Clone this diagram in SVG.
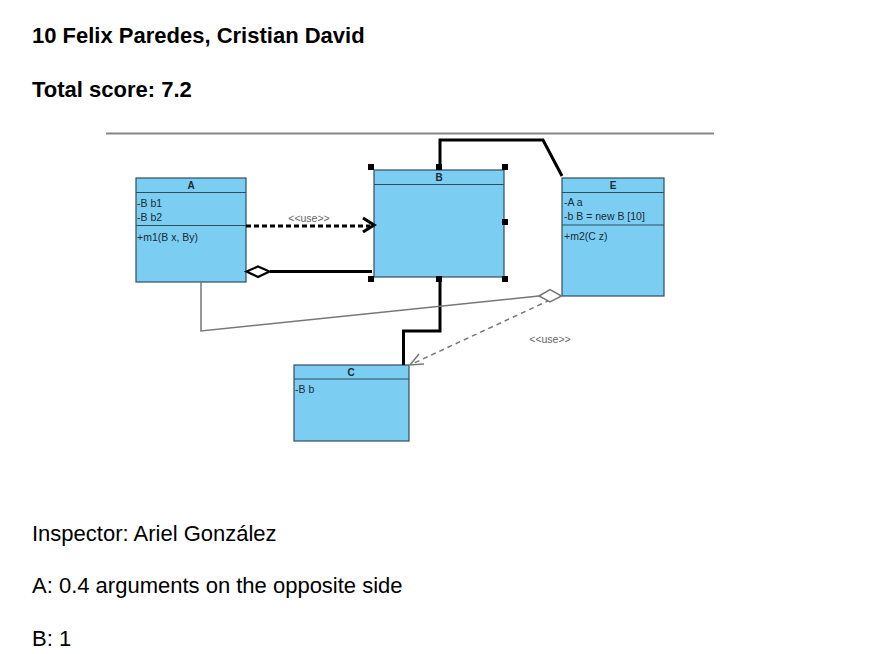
<svg xmlns="http://www.w3.org/2000/svg" width="888" height="654" viewBox="0 0 888 654">
<defs>
<style>
.title{font-family:"Liberation Sans",Arial,sans-serif;font-size:22px;font-weight:bold;fill:#000}
.body{font-family:"Liberation Sans",Arial,sans-serif;font-size:22px;fill:#000}
.box{fill:#7ccdf2;stroke:#2f4f5f;stroke-width:1.2}
.sep{stroke:#2f4f5f;stroke-width:1.2}
.hdr{font-family:"Liberation Sans",Arial,sans-serif;font-size:10px;font-weight:bold;fill:#1a2a33;text-anchor:middle}
.attr{font-family:"Liberation Sans",Arial,sans-serif;font-size:10.5px;fill:#1a2a33}
.lbl{font-family:"Liberation Sans",Arial,sans-serif;font-size:10.5px;fill:#666;text-anchor:middle}
.thick{fill:none;stroke:#000;stroke-width:3}
.thin{fill:none;stroke:#777;stroke-width:1.5}
.handle{fill:#000}
</style>
</defs>
<rect width="888" height="654" fill="#fff"/>
<text class="title" x="32" y="43">10 Felix Paredes, Cristian David</text>
<text class="title" x="32" y="97">Total score: 7.2</text>
<line x1="106" y1="133.5" x2="714" y2="133.5" stroke="#888" stroke-width="2"/>

<g id="A">
<rect class="box" x="136" y="178" width="110" height="104"/>
<line class="sep" x1="136" y1="192.5" x2="246" y2="192.5"/>
<line class="sep" x1="136" y1="225.5" x2="246" y2="225.5"/>
<text class="hdr" x="191" y="189">A</text>
<text class="attr" x="137" y="207">-B b1</text>
<text class="attr" x="137" y="221">-B b2</text>
<text class="attr" x="137" y="241">+m1(B x, By)</text>
</g>

<g id="B">
<rect class="box" x="374" y="170" width="130" height="107"/>
<line class="sep" x1="374" y1="184.5" x2="504" y2="184.5"/>
<text class="hdr" x="439" y="181">B</text>
<rect class="handle" x="368" y="164" width="6" height="6"/>
<rect class="handle" x="436" y="164" width="6" height="6"/>
<rect class="handle" x="502" y="164" width="6" height="6"/>
<rect class="handle" x="502" y="219" width="6" height="6"/>
<rect class="handle" x="368" y="276" width="6" height="6"/>
<rect class="handle" x="436" y="276" width="6" height="6"/>
<rect class="handle" x="502" y="276" width="6" height="6"/>
</g>

<g id="E">
<rect class="box" x="562" y="178" width="102" height="118"/>
<line class="sep" x1="562" y1="192.5" x2="664" y2="192.5"/>
<line class="sep" x1="562" y1="225" x2="664" y2="225"/>
<text class="hdr" x="613" y="189">E</text>
<text class="attr" x="564" y="206">-A a</text>
<text class="attr" x="564" y="220">-b B = new B [10]</text>
<text class="attr" x="564" y="240">+m2(C z)</text>
</g>

<g id="C">
<rect class="box" x="294" y="365" width="115" height="76"/>
<line class="sep" x1="294" y1="379" x2="409" y2="379"/>
<text class="hdr" x="351" y="376">C</text>
<text class="attr" x="295" y="393">-B b</text>
</g>

<g id="connectors">
<path class="thick" d="M440 164 V140 H543 L562 176"/>
<path d="M246 226 H370" fill="none" stroke="#000" stroke-width="3" stroke-dasharray="5,3"/>
<path d="M363 218 L374 225 L363 232" fill="none" stroke="#000" stroke-width="3.2"/>
<text class="lbl" x="309" y="222">&lt;&lt;use&gt;&gt;</text>
<path d="M270 271.5 H372" fill="none" stroke="#000" stroke-width="3"/>
<path d="M246.5 271.5 L258 266.5 L269.5 271.5 L258 277 Z" fill="#fff" stroke="#000" stroke-width="2.2"/>
<path class="thick" d="M440 282 V331 H403.5 V365"/>
<path class="thin" d="M201 282 V331 L539 296"/>
<path d="M550 300 L412 364" fill="none" stroke="#777" stroke-width="1.5" stroke-dasharray="5,4"/>
<path d="M419 354 L410 365 L424 364" fill="none" stroke="#777" stroke-width="1.5"/>
<path d="M539 296 L550 289.5 L561.5 296 L550 302 Z" fill="#fff" stroke="#777" stroke-width="1.5"/>
<text class="lbl" x="550" y="343">&lt;&lt;use&gt;&gt;</text>
</g>

<text class="body" x="32" y="541">Inspector: Ariel González</text>
<text class="body" x="32" y="593">A: 0.4 arguments on the opposite side</text>
<text class="body" x="32" y="646">B: 1</text>
</svg>
